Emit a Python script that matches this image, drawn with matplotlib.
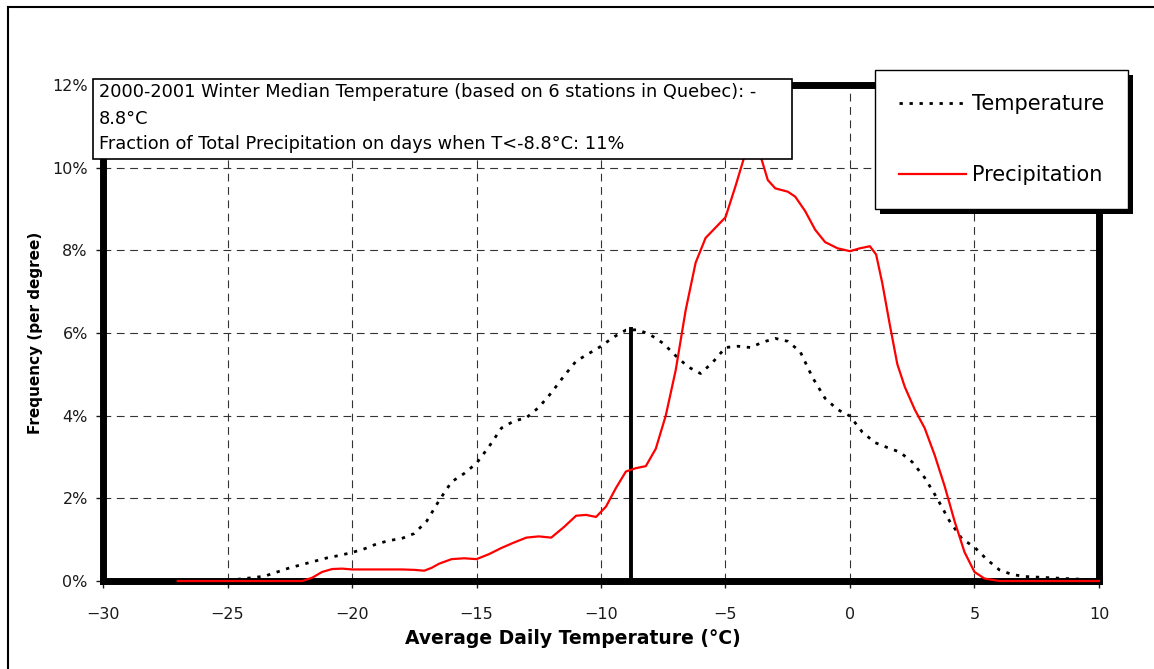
import matplotlib.pyplot as plt
import matplotlib.patheffects as pe
from matplotlib.lines import Line2D
from matplotlib.patches import Rectangle

# temperature distribution (x = deg C, y = % per degree)
temp_x = [-25.0, -24.5, -24.0, -23.5, -23.0, -22.5, -22.0, -21.5, -21.0, -20.5, -20.0,
          -19.5, -19.0, -18.5, -18.0, -17.5, -17.0, -16.5, -16.0, -15.5, -15.0,
          -14.5, -14.0, -13.5, -13.0, -12.5, -12.0, -11.5, -11.0, -10.5, -10.0,
          -9.5, -9.0, -8.5, -8.0, -7.5, -7.0, -6.5, -6.0, -5.5, -5.0,
          -4.5, -4.0, -3.5, -3.0, -2.5, -2.0, -1.5, -1.0, -0.5, 0.0,
          0.5, 1.0, 1.5, 2.0, 2.5, 3.0, 3.5, 4.0, 4.5, 5.0,
          5.5, 6.0, 6.5, 7.0, 8.0, 9.0, 10.0]
temp_y = [0.00, 0.05, 0.08, 0.12, 0.22, 0.32, 0.40, 0.48, 0.56, 0.62, 0.69,
          0.78, 0.90, 0.98, 1.03, 1.15, 1.45, 1.95, 2.40, 2.60, 2.85,
          3.25, 3.70, 3.87, 3.95, 4.20, 4.55, 4.95, 5.32, 5.50, 5.68,
          5.90, 6.07, 6.08, 5.95, 5.75, 5.45, 5.18, 5.02, 5.30, 5.65,
          5.68, 5.65, 5.78, 5.87, 5.80, 5.55, 4.92, 4.42, 4.15, 3.99,
          3.60, 3.35, 3.23, 3.12, 2.88, 2.50, 2.00, 1.45, 1.02, 0.82,
          0.52, 0.27, 0.16, 0.11, 0.08, 0.05, 0.03]

# precipitation distribution
prec_x = [-27.0, -22.0, -21.6, -21.2, -20.8, -20.4, -20.0, -19.0, -18.0, -17.5, -17.1,
          -16.8, -16.5, -16.0, -15.5, -15.0, -14.5, -14.0, -13.5, -13.0, -12.5,
          -12.0, -11.5, -11.0, -10.6, -10.2, -9.8, -9.4, -9.0, -8.6, -8.2,
          -7.8, -7.4, -7.0, -6.6, -6.2, -5.8, -5.4, -5.0, -4.6, -4.2,
          -3.9, -3.6, -3.3, -3.0, -2.5, -2.2, -1.8, -1.4, -1.0, -0.5,
          0.0, 0.4, 0.8, 1.05, 1.3, 1.6, 1.9, 2.2, 2.6, 3.0,
          3.4, 3.8, 4.2, 4.6, 5.0, 5.4, 6.0, 10.0]
prec_y = [0.00, 0.00, 0.08, 0.22, 0.29, 0.30, 0.28, 0.28, 0.28, 0.27, 0.25,
          0.32, 0.42, 0.53, 0.55, 0.53, 0.65, 0.80, 0.93, 1.05, 1.08,
          1.05, 1.30, 1.58, 1.60, 1.55, 1.80, 2.25, 2.65, 2.73, 2.78,
          3.20, 4.00, 5.10, 6.55, 7.70, 8.30, 8.55, 8.80, 9.55, 10.35,
          10.65, 10.30, 9.70, 9.50, 9.42, 9.30, 8.95, 8.50, 8.20, 8.05,
          7.98, 8.05, 8.10, 7.90, 7.20, 6.20, 5.25, 4.70, 4.15, 3.70,
          3.05, 2.30, 1.45, 0.70, 0.22, 0.06, 0.00, 0.00]

median_t = -8.8
median_freq = 6.1
x_ticks = [-30, -25, -20, -15, -10, -5, 0, 5, 10]
y_ticks = [0, 2, 4, 6, 8, 10, 12]
note_lines = ['2000-2001 Winter Median Temperature (based on 6 stations in Quebec): -',
              '8.8°C',
              'Fraction of Total Precipitation on days when T<-8.8°C: 11%']

plt.rcParams['font.family'] = 'DejaVu Sans'

fig = plt.figure(figsize=(11.54, 6.69), dpi=100)
ax = fig.add_axes([0.0893, 0.1315, 0.8630, 0.7414])

ax.plot(temp_x, temp_y, color='black', linestyle=(0, (1.2, 2.4)), linewidth=2.0,
        zorder=4, label='Temperature')
ax.plot(prec_x, prec_y, color='red', linewidth=1.6, zorder=5, label='Precipitation',
        clip_on=False)
ax.plot([median_t, median_t], [0, median_freq], color='black', linewidth=2.8, zorder=4)

ax.set_xlim(-30, 10)
ax.set_ylim(0, 12)
ax.set_xticks(x_ticks)
ax.set_yticks(y_ticks)
ax.set_yticklabels([f'{v}%' for v in y_ticks])
ax.tick_params(axis='both', labelsize=11.5, direction='out', length=5, width=1,
               colors='#1a1a1a')
ax.tick_params(axis='x', pad=14)
ax.tick_params(axis='y', pad=6)
ax.grid(True, color='#333333', linestyle=(0, (7, 5)), linewidth=0.8)
ax.set_axisbelow(True)
for s in ax.spines.values():
    s.set_linewidth(5)
    s.set_zorder(3)

ax.set_xlabel('Average Daily Temperature (°C)', fontsize=13.5, fontweight='bold')
ax.xaxis.set_label_coords(0.472, -0.097)
ax.set_ylabel('Frequency (per degree)', fontsize=11, fontweight='bold')
ax.yaxis.set_label_coords(-0.060, 0.5)

# annotation box
ax.add_patch(Rectangle((-0.01, 0.8508), 0.7018, 0.1613, transform=ax.transAxes,
                       facecolor='white', edgecolor='black', linewidth=1.2,
                       clip_on=False, zorder=8))
for line, yy in zip(note_lines, [0.985, 0.931, 0.882]):
    ax.text(-0.004, yy, line, transform=ax.transAxes, ha='left', va='center',
            fontsize=12.8, zorder=9)

leg = ax.legend(loc='upper left', bbox_to_anchor=(0.775, 1.03), fontsize=15,
                frameon=True, fancybox=False, edgecolor='black', framealpha=1,
                borderpad=1.15, labelspacing=2.45, handlelength=3.2, handletextpad=0.3,
                borderaxespad=0)
leg.get_frame().set_linewidth(1.0)
leg.get_frame().set_path_effects([
    pe.SimplePatchShadow(offset=(3.5, -3.5), shadow_rgbFace='black', alpha=1),
    pe.Normal()])
leg.set_zorder(10)

# outer chart frame
fig.add_artist(Line2D([0.0065, 0.0065], [0, 0.9895], color='black', linewidth=1.5))
fig.add_artist(Line2D([0.0065, 1.0], [0.9895, 0.9895], color='black', linewidth=1.5))

fig.savefig('out.png', dpi=100)
